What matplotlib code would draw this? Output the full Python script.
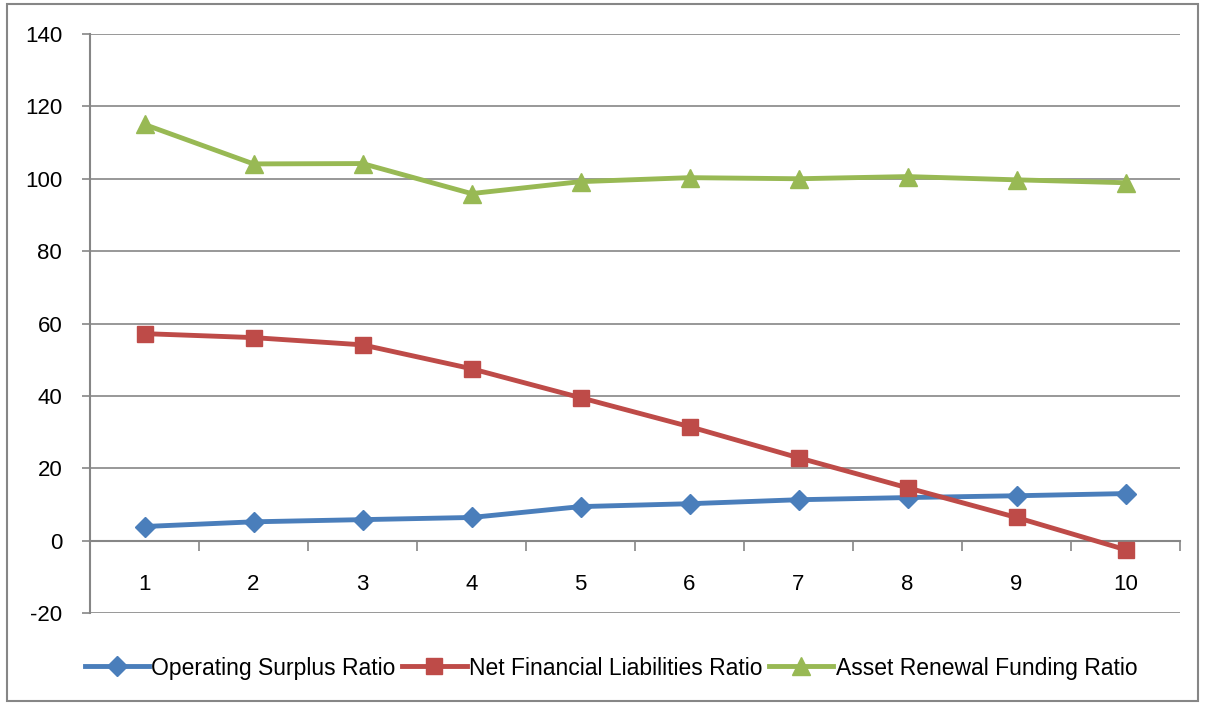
import numpy as np
import matplotlib.pyplot as plt
from matplotlib.patches import Rectangle

years = [1, 2, 3, 4, 5, 6, 7, 8, 9, 10]
operating_surplus = [3.9, 5.2, 5.8, 6.4, 9.4, 10.2, 11.3, 11.9, 12.4, 13.0]
net_fin_liab = [57.2, 56.1, 54.1, 47.5, 39.5, 31.5, 22.9, 14.6, 6.4, -2.5]
asset_renewal = [115.0, 104.1, 104.2, 95.9, 99.2, 100.3, 100.0, 100.6, 99.7, 98.9]
y_ticks = [-20, 0, 20, 40, 60, 80, 100, 120, 140]

plt.rcParams['font.family'] = ['Liberation Sans', 'DejaVu Sans']
plt.rcParams['axes.unicode_minus'] = False
grey = '#868686'

fig = plt.figure(figsize=(12.05, 7.04), dpi=100)
ax = fig.add_axes([90/1205, 91/704, 1090/1205, 579/704])

ax.plot(years, operating_surplus, color='#4A7EBB', lw=3.5, marker='D', ms=10,
        label='Operating Surplus Ratio', zorder=3)
ax.plot(years, net_fin_liab, color='#BE4B48', lw=3.5, marker='s', ms=12,
        label='Net Financial Liabilities Ratio', zorder=3)
ax.plot(years, asset_renewal, color='#98B954', lw=3.5, marker='^', ms=13,
        label='Asset Renewal Funding Ratio', zorder=3)

ax.set_xlim(0.5, 10.5)
ax.set_ylim(-20, 140)
ax.set_yticks(y_ticks)
ax.yaxis.grid(True, color=grey, lw=1.2)
ax.set_axisbelow(True)

ax.set_xticks(years)
ax.set_xticks(np.arange(0.5, 11, 1), minor=True)
ax.tick_params(axis='x', which='major', length=0, pad=24, labelsize=16)
ax.tick_params(axis='x', which='minor', length=7, width=1.2, color=grey, direction='out')
ax.tick_params(axis='y', length=6, width=1.2, color=grey, labelsize=16, pad=14)

for s in ['top', 'right']:
    ax.spines[s].set_visible(False)
ax.spines['bottom'].set_position(('data', 0))
ax.spines['bottom'].set_color(grey)
ax.spines['bottom'].set_linewidth(1.5)
ax.spines['left'].set_color(grey)
ax.spines['left'].set_linewidth(1.5)

ax.legend(loc='center', bbox_to_anchor=(0.478, -0.095), ncol=3, frameon=False,
          fontsize=16.5, handlelength=2.8, handletextpad=0.1, columnspacing=0.3)

fig.patches.append(Rectangle((7/1205, 3/704), 1191/1205, 697/704, fill=False,
                             edgecolor=grey, lw=1.5, transform=fig.transFigure))

fig.savefig('out.png', dpi=100)
